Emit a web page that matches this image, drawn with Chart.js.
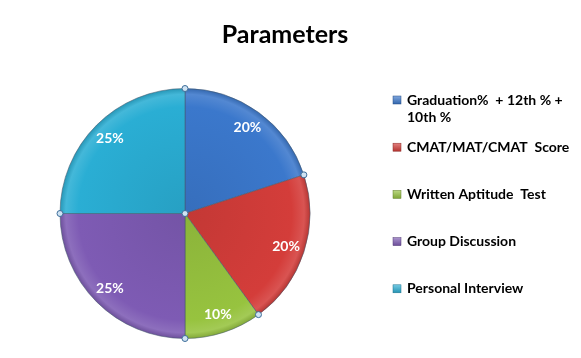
<!DOCTYPE html>
<html>
<head>
<meta charset="utf-8">
<script src="https://cdn.jsdelivr.net/npm/chart.js@4/dist/chart.umd.min.js"></script>
<style>
  html, body { margin: 0; padding: 0; background: #fff; }
  #wrap { width: 581px; height: 358px; }
</style>
</head>
<body>
<div id="wrap"><canvas id="chartPie"></canvas></div>
<script>
const chartTitle = 'Parameters';
const labels = [
  ['Graduation%  + 12th % +', '10th %'],
  ['CMAT/MAT/CMAT  Score'],
  ['Written Aptitude  Test'],
  ['Group Discussion'],
  ['Personal Interview']
];
const values = [20, 20, 10, 25, 25];
const colors = ['#3b78cc', '#d43d3a', '#97c33f', '#7e5bb4', '#2aaed4'];

const FONT = 'Lato, "Open Sans", sans-serif';

function shade(hex, amt) {
  const n = parseInt(hex.slice(1), 16);
  let r = (n >> 16) & 255, g = (n >> 8) & 255, b = n & 255;
  const f = v => Math.max(0, Math.min(255, Math.round(amt >= 0 ? v + (255 - v) * amt : v * (1 + amt))));
  return `rgb(${f(r)},${f(g)},${f(b)})`;
}

function sliceFill(ctx) {
  const chart = ctx.chart;
  const area = chart.chartArea;
  if (!area) return colors[ctx.dataIndex];
  const base = colors[ctx.dataIndex];
  const cx = (area.left + area.right) / 2;
  const cy = (area.top + area.bottom) / 2;
  const r = Math.min(area.right - area.left, area.bottom - area.top) / 2;
  const g = chart.ctx.createRadialGradient(cx, cy, 0, cx, cy, r);
  g.addColorStop(0, shade(base, -0.08));
  g.addColorStop(0.85, base);
  g.addColorStop(0.95, shade(base, 0.12));
  g.addColorStop(1, shade(base, -0.15));
  return g;
}

const pieExtras = {
  id: 'pieExtras',
  afterDatasetsDraw(chart) {
    const { ctx } = chart;
    const meta = chart.getDatasetMeta(0);
    const total = values.reduce((s, v) => s + v, 0);

    // percentage labels
    ctx.save();
    ctx.font = 'bold 14px ' + FONT;
    ctx.fillStyle = '#fff';
    ctx.textAlign = 'center';
    ctx.textBaseline = 'middle';
    meta.data.forEach((arc, i) => {
      const { startAngle, endAngle, x, y, outerRadius } = arc.getProps(['startAngle', 'endAngle', 'x', 'y', 'outerRadius'], true);
      const mid = (startAngle + endAngle) / 2;
      const d = outerRadius * 0.85;
      ctx.fillText(Math.round(values[i] / total * 100) + '%', x + Math.cos(mid) * d, y + Math.sin(mid) * d);
    });
    ctx.restore();

    // selection handles
    ctx.save();
    const drawHandle = (hx, hy) => {
      ctx.beginPath();
      ctx.arc(hx, hy, 3, 0, Math.PI * 2);
      ctx.fillStyle = '#cfe3f3';
      ctx.fill();
      ctx.lineWidth = 1;
      ctx.strokeStyle = '#3d6d99';
      ctx.stroke();
    };
    meta.data.forEach(arc => {
      const { startAngle, x, y, outerRadius } = arc.getProps(['startAngle', 'x', 'y', 'outerRadius'], true);
      drawHandle(x + Math.cos(startAngle) * outerRadius, y + Math.sin(startAngle) * outerRadius);
    });
    if (meta.data.length) drawHandle(meta.data[0].x, meta.data[0].y);
    ctx.restore();
  },
  afterDraw(chart) {
    const { ctx } = chart;
    ctx.save();
    // title
    ctx.font = 'bold 25px ' + FONT;
    ctx.fillStyle = '#000';
    ctx.textAlign = 'center';
    ctx.textBaseline = 'middle';
    ctx.fillText(chartTitle, 285, 35);

    // legend
    ctx.font = 'bold 14px ' + FONT;
    ctx.textAlign = 'left';
    labels.forEach((lines, i) => {
      const y = 100 + i * 47.2;
      const g = ctx.createLinearGradient(0, y - 4, 0, y + 4);
      g.addColorStop(0, shade(colors[i], 0.35));
      g.addColorStop(1, shade(colors[i], -0.15));
      ctx.fillStyle = g;
      ctx.fillRect(393, y - 4, 8, 8);
      ctx.strokeStyle = shade(colors[i], -0.35);
      ctx.lineWidth = 0.5;
      ctx.strokeRect(393, y - 4, 8, 8);
      ctx.fillStyle = '#000';
      lines.forEach((t, j) => ctx.fillText(t, 407, y + j * 17));
    });
    ctx.restore();
  }
};

new Chart(document.getElementById('chartPie'), {
  type: 'pie',
  data: {
    labels: labels.map(l => l.join(' ')),
    datasets: [{
      data: values,
      backgroundColor: sliceFill,
      borderColor: 'rgba(70,90,110,0.55)',
      borderWidth: 1
    }]
  },
  options: {
    responsive: true,
    maintainAspectRatio: false,
    animation: false,
    layout: { padding: { top: 88, right: 211, bottom: 19, left: 0 } },
    plugins: {
      legend: { display: false },
      title: { display: false },
      tooltip: { enabled: false }
    }
  },
  plugins: [pieExtras]
});
</script>
</body>
</html>
